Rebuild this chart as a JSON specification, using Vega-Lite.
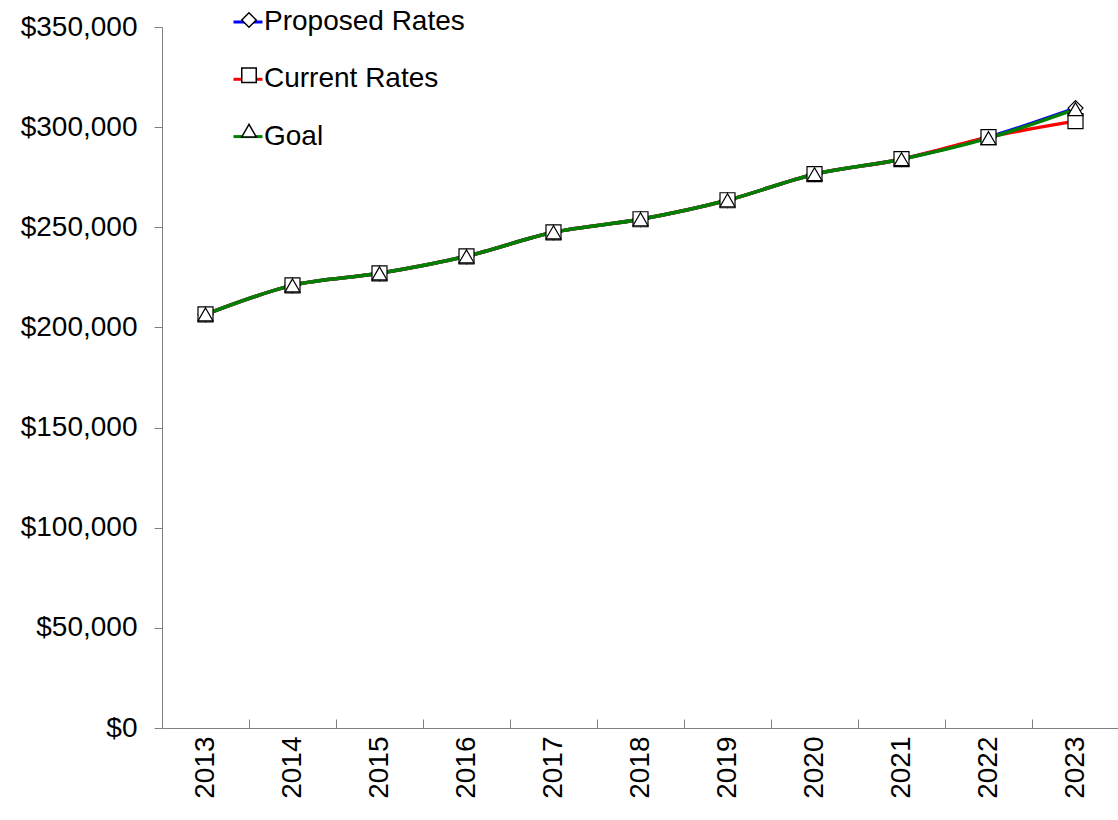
{
  "$schema": "https://vega.github.io/schema/vega-lite/v6.json",
  "width": 957,
  "height": 701,
  "autosize": {"type": "none"},
  "padding": {"left": 162, "top": 27, "right": 0, "bottom": 92},
  "background": "white",
  "config": {
    "view": {"stroke": null},
    "font": "Liberation Sans"
  },
  "data": {
    "values": [
      {"year": "2013", "series": "Proposed Rates", "value": 206500},
      {"year": "2014", "series": "Proposed Rates", "value": 221000},
      {"year": "2015", "series": "Proposed Rates", "value": 227000},
      {"year": "2016", "series": "Proposed Rates", "value": 235500},
      {"year": "2017", "series": "Proposed Rates", "value": 247500},
      {"year": "2018", "series": "Proposed Rates", "value": 254000},
      {"year": "2019", "series": "Proposed Rates", "value": 263500},
      {"year": "2020", "series": "Proposed Rates", "value": 276500},
      {"year": "2021", "series": "Proposed Rates", "value": 284000},
      {"year": "2022", "series": "Proposed Rates", "value": 295000},
      {"year": "2023", "series": "Proposed Rates", "value": 309500},
      {"year": "2013", "series": "Current Rates", "value": 206500},
      {"year": "2014", "series": "Current Rates", "value": 221000},
      {"year": "2015", "series": "Current Rates", "value": 227000},
      {"year": "2016", "series": "Current Rates", "value": 235500},
      {"year": "2017", "series": "Current Rates", "value": 247500},
      {"year": "2018", "series": "Current Rates", "value": 254000},
      {"year": "2019", "series": "Current Rates", "value": 263500},
      {"year": "2020", "series": "Current Rates", "value": 276500},
      {"year": "2021", "series": "Current Rates", "value": 284000},
      {"year": "2022", "series": "Current Rates", "value": 295000},
      {"year": "2023", "series": "Current Rates", "value": 303000},
      {"year": "2013", "series": "Goal", "value": 206500},
      {"year": "2014", "series": "Goal", "value": 221000},
      {"year": "2015", "series": "Goal", "value": 227000},
      {"year": "2016", "series": "Goal", "value": 235500},
      {"year": "2017", "series": "Goal", "value": 247500},
      {"year": "2018", "series": "Goal", "value": 254000},
      {"year": "2019", "series": "Goal", "value": 263500},
      {"year": "2020", "series": "Goal", "value": 276500},
      {"year": "2021", "series": "Goal", "value": 284000},
      {"year": "2022", "series": "Goal", "value": 294500},
      {"year": "2023", "series": "Goal", "value": 309000}
    ]
  },
  "layer": [
    {
      "mark": {"type": "line", "interpolate": "monotone", "strokeWidth": 3.5},
      "encoding": {
        "x": {
          "field": "year", "type": "ordinal", "bandPosition": 0.5,
          "scale": {"type": "band", "paddingInner": 0, "paddingOuter": 0},
          "axis": {
            "title": null, "labelAngle": 270, "labelAlign": "right", "labelBaseline": "middle",
            "labelFontSize": 28, "labelColor": "black", "tickBand": "extent",
            "tickSize": -9, "labelPadding": 17, "domainColor": "#808080", "tickColor": "#808080",
            "grid": false
          }
        },
        "y": {
          "field": "value", "type": "quantitative",
          "scale": {"domain": [0, 350000]},
          "axis": {
            "title": null, "values": [0, 50000, 100000, 150000, 200000, 250000, 300000, 350000],
            "format": "$,.0f", "labelFontSize": 28, "labelColor": "black",
            "tickSize": 8, "labelPadding": 17, "domainColor": "#808080", "tickColor": "#808080",
            "grid": false
          }
        },
        "color": {
          "field": "series", "type": "nominal",
          "scale": {"domain": ["Proposed Rates", "Current Rates", "Goal"], "range": ["#0000FF", "#FF0000", "#008000"]},
          "legend": {
            "orient": "none", "legendX": 70, "legendY": -21, "title": null, "padding": 0,
            "symbolType": "stroke", "symbolSize": 841, "symbolStrokeWidth": 3,
            "labelFontSize": 28, "labelColor": "black", "labelOffset": 0, "labelLimit": 400, "rowPadding": 27.3
          }
        }
      }
    },
    {
      "mark": {"type": "point", "filled": true, "fill": "white", "stroke": "black", "strokeWidth": 1.2, "size": 225, "opacity": 1},
      "encoding": {
        "x": {"field": "year", "type": "ordinal", "bandPosition": 0.5},
        "y": {"field": "value", "type": "quantitative"},
        "shape": {
          "field": "series", "type": "nominal",
          "sort": ["Proposed Rates", "Current Rates", "Goal"],
          "scale": {"range": ["diamond", "square", "triangle-up"]},
          "legend": {
            "orient": "none", "legendX": 73, "legendY": -21, "title": null, "padding": 0,
            "symbolSize": 210, "symbolOpacity": 1,
            "labelFontSize": 28, "labelExpr": "''", "labelOffset": 0, "labelLimit": 400, "rowPadding": 27.3,
            "encode": {
              "symbols": {
                "update": {
                  "fill": {"value": "white"},
                  "stroke": {"value": "black"},
                  "strokeWidth": {"value": 1.2},
                  "opacity": {"value": 1}
                }
              }
            }
          }
        }
      }
    }
  ]
}
